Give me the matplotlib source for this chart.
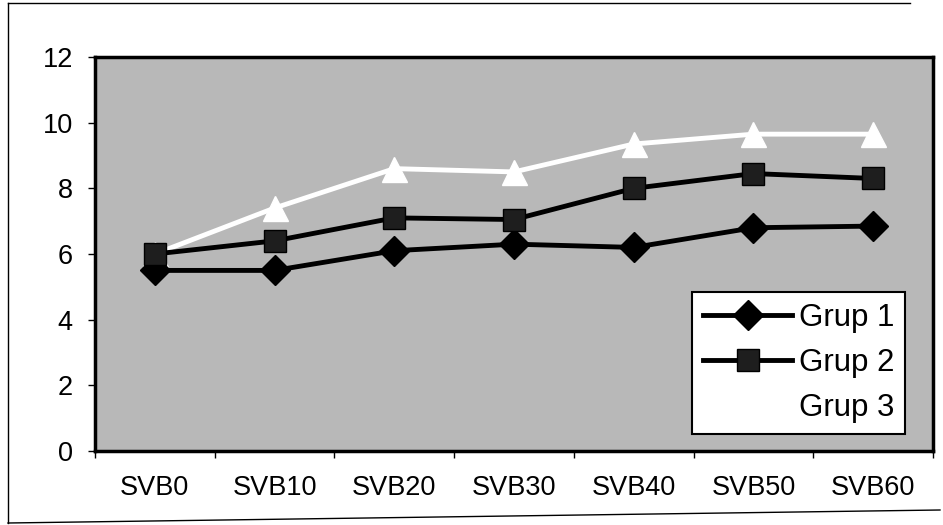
import matplotlib
matplotlib.use("Agg")
import matplotlib.pyplot as plt
from matplotlib.lines import Line2D

categories = ["SVB0", "SVB10", "SVB20", "SVB30", "SVB40", "SVB50", "SVB60"]
grup1 = [5.5, 5.5, 6.1, 6.3, 6.2, 6.8, 6.85]
grup2 = [6.0, 6.4, 7.1, 7.05, 8.0, 8.45, 8.3]
grup3 = [6.0, 7.4, 8.6, 8.5, 9.35, 9.65, 9.65]
labels = ["Grup 1", "Grup 2", "Grup 3"]
yticks = [0, 2, 4, 6, 8, 10, 12]

plt.rcParams['font.family'] = ['Liberation Sans', 'DejaVu Sans']

W, H = 943, 525
fig = plt.figure(figsize=(W / 100, H / 100), dpi=100)
fig.patch.set_facecolor('white')

L, T, R, B = 95, 57, 933, 451
ax = fig.add_axes([L / W, (H - B) / H, (R - L) / W, (B - T) / H])
ax.set_facecolor('#b8b8b8')

x = list(range(len(categories)))
ax.plot(x, grup1, color='black', lw=3.5, marker='D', markersize=15,
        markerfacecolor='black', markeredgecolor='black', label=labels[0], zorder=3)
ax.plot(x, grup2, color='black', lw=3.5, marker='s', markersize=16,
        markerfacecolor='#1e1e1e', markeredgecolor='black', label=labels[1], zorder=3)
ax.plot(x, grup3, color='white', lw=3.5, marker='^', markersize=18,
        markerfacecolor='white', markeredgecolor='white', label=labels[2], zorder=2)

ax.set_xlim(-0.5, len(categories) - 0.5)
ax.set_ylim(0, 12)
ax.set_yticks(yticks)
ax.set_yticklabels([str(v) for v in yticks])
ax.set_xticks(x)
ax.set_xticklabels(categories)
ax.set_xticks([i - 0.5 for i in range(len(categories) + 1)], minor=True)

ax.tick_params(axis='y', which='major', direction='out', length=5, width=1,
               pad=11, labelsize=19.5, color='black')
ax.tick_params(axis='x', which='major', length=0, pad=17, labelsize=19.5)
ax.tick_params(axis='x', which='minor', direction='out', length=5, width=1)

for s in ['top', 'right', 'bottom', 'left']:
    ax.spines[s].set_linewidth(2.5)
    ax.spines[s].set_color('black')

leg = ax.legend(loc='upper right', bbox_to_anchor=(0.9666, 0.4036),
                borderaxespad=0, fontsize=22.5, frameon=True, fancybox=False,
                framealpha=1, edgecolor='black', handlelength=2.85,
                handletextpad=0.2, labelspacing=0.48, borderpad=0.35)
leg.get_frame().set_linewidth(1.5)
leg.get_frame().set_facecolor('white')

# outer chart frame (scanned page border)
fig.add_artist(Line2D([8 / W, 8 / W], [1 - 3 / H, 1 - 523 / H], color='black', lw=1, transform=fig.transFigure))
fig.add_artist(Line2D([8 / W, 910 / W], [1 - 3 / H, 1 - 3 / H], color='black', lw=1, transform=fig.transFigure))
fig.add_artist(Line2D([8 / W, 940 / W], [1 - 523 / H, 1 - 510 / H], color='black', lw=1, transform=fig.transFigure))

fig.savefig('out.png', dpi=100, facecolor='white')
